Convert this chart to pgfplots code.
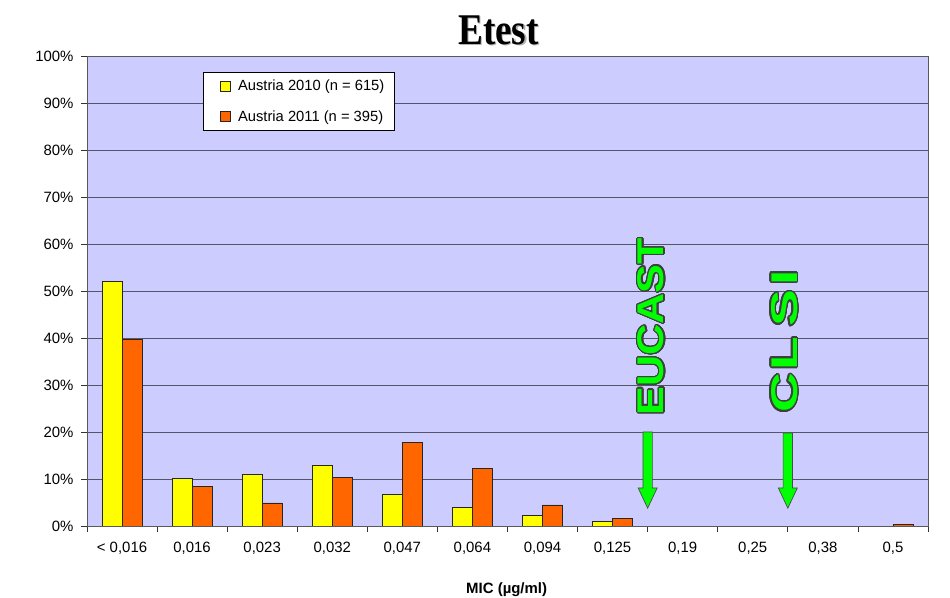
\documentclass[border=0pt]{standalone}
\usepackage{pgfplots}
\pgfplotsset{compat=1.18}
\usepackage{fontspec}
\setmainfont{Liberation Sans}
\newfontfamily\titlefont{Liberation Serif}
\usepackage{contour}
\contourlength{0.3pt}
\contournumber{32}
\definecolor{bg}{HTML}{CCCCFF}
\definecolor{y10}{HTML}{FFFF00}
\definecolor{o11}{HTML}{FF6600}
\definecolor{gridc}{HTML}{55556A}
\begin{document}
\begin{tikzpicture}
\path[use as bounding box] (0bp,0bp) rectangle (950bp,598bp);
% title with shadow
\node[text=black!30] at (500bp,566.5bp) {\scalebox{0.85}[1]{\titlefont\fontsize{44}{44}\selectfont\bfseries Etest}};
\node[text=black] at (498.5bp,568bp) {\scalebox{0.85}[1]{\titlefont\fontsize{44}{44}\selectfont\bfseries Etest}};
\begin{axis}[
  at={(87bp,72bp)}, anchor=south west,
  scale only axis, width=841bp, height=470bp,
  xmin=-0.5, xmax=11.5, ymin=0, ymax=100,
  ybar=0pt, bar width=20bp,
  axis background/.style={fill=bg},
  axis line style={gray!70!black, line width=0.9pt},
  ymajorgrids, grid style={gridc, line width=0.9pt},
  ytick={0,10,...,100},
  yticklabel={\pgfmathprintnumber{\tick}\%},
  /pgf/number format/assume math mode=true,
  yticklabel style={xshift=-4bp},
  xtick={-0.5,0.5,...,11.5},
  xticklabels={{< 0,016},{0,016},{0,023},{0,032},{0,047},{0,064},{0,094},{0,125},{0,19},{0,25},{0,38},{0,5},{}},
  xticklabel style={xshift=35bp, yshift=-7bp},
  tick align=outside, tick pos=left,
  major tick length=6bp,
  tick style={black!80, line width=0.7pt},
  ticklabel style={font=\fontsize{15}{17}\selectfont},
  xlabel={\bfseries MIC (µg/ml)},
  xlabel style={at={(axis description cs:0.499,-0.136)}, anchor=center, font=\fontsize{15}{17}\selectfont},
  legend style={at={(0.138,0.966)}, anchor=north west, draw=black, fill=white,
    line width=0.7pt, font=\fontsize{14.8}{17}\selectfont, inner xsep=8bp, inner ysep=6bp,
    row sep=14bp, cells={anchor=west},
    /tikz/every odd column/.style={column sep=5bp}},
  mylegend/.style={legend image code/.code={\path (0bp,0bp); \draw[##1, line width=0.6pt] (9bp,-5bp) rectangle (19bp,5bp);}},
]
\addplot[fill=y10, draw=black!85, line width=0.7pt, mylegend] coordinates {
 (0,52) (1,10.2) (2,10.9) (3,13.0) (4,6.7) (5,3.9) (6,2.2) (7,0.9)};
\addlegendentry{Austria 2010 (n = 615)}
\addplot[fill=o11, draw=black!85, line width=0.7pt, mylegend] coordinates {
 (0,39.8) (1,8.5) (2,4.9) (3,10.4) (4,17.7) (5,12.3) (6,4.5) (7,1.6) (11,0.25)};
\addlegendentry{Austria 2011 (n = 395)}
% arrows
\filldraw[fill=green, draw=black!70, line width=0.7pt]
 (axis cs:7.433,20) -- (axis cs:7.567,20) -- (axis cs:7.567,8.1) -- (axis cs:7.636,8.1)
 -- (axis cs:7.5,3.8) -- (axis cs:7.364,8.1) -- (axis cs:7.433,8.1) -- cycle;
\filldraw[fill=green, draw=black!70, line width=0.7pt]
 (axis cs:9.433,19.8) -- (axis cs:9.567,19.8) -- (axis cs:9.567,8.1) -- (axis cs:9.636,8.1)
 -- (axis cs:9.5,3.8) -- (axis cs:9.364,8.1) -- (axis cs:9.433,8.1) -- cycle;
\node[rotate=90, inner sep=0pt] at (axis cs:7.557,42.4)
 {\resizebox{177bp}{26bp}{\color{green}\contour{black!75}{\bfseries EUCAST}}};
\node[rotate=90, inner sep=0pt] at (axis cs:9.457,39.3)
 {\resizebox{143bp}{26bp}{\color{green}\contour{black!75}{\bfseries C\hspace{0.5pt}L\hspace{1.8pt}S\hspace{0.9pt}I}}};
\end{axis}
\end{tikzpicture}
\end{document}
